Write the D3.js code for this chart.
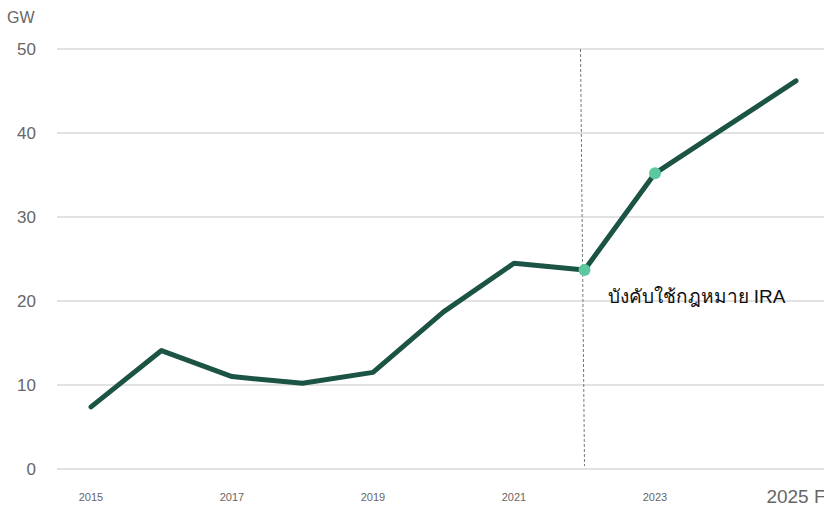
<!DOCTYPE html>
<html>
<head>
<meta charset="utf-8">
<script src="https://cdn.jsdelivr.net/npm/d3@7"></script>
<style>
  body { margin: 0; background: #fff; }
  svg { font-family: "Liberation Sans", Arial, sans-serif; }
</style>
</head>
<body>
<div id="chart"></div>
<script>
// data
const years = [2015, 2016, 2017, 2018, 2019, 2020, 2021, 2022, 2023, 2024, 2025];
const capacity = [7.4, 14.1, 11.0, 10.2, 11.5, 18.7, 24.5, 23.7, 35.2, 40.7, 46.2];
const highlightYears = [2022, 2023];
const yTicks = [0, 10, 20, 30, 40, 50];
const xTickLabels = ["2015", "2017", "2019", "2021", "2023", "2025 F"];
const xTickYears = [2015, 2017, 2019, 2021, 2023, 2025];
const markerYear = 2022;
const markerLabel = "บังคับใช้กฎหมาย IRA";

const width = 824, height = 506;

const x = d3.scaleLinear().domain([2015, 2025]).range([91, 796]);
const y = d3.scaleLinear().domain([0, 50]).range([469, 49]);

const svg = d3.select("#chart").append("svg")
  .attr("width", width)
  .attr("height", height);

// gridlines
svg.append("g")
  .selectAll("line")
  .data(yTicks)
  .enter().append("line")
  .attr("x1", 57)
  .attr("x2", width)
  .attr("y1", d => y(d))
  .attr("y2", d => y(d))
  .attr("stroke", "#d9d9d9")
  .attr("stroke-width", 1.5);

// y labels
svg.append("g")
  .selectAll("text")
  .data(yTicks)
  .enter().append("text")
  .attr("x", 36)
  .attr("y", d => y(d) + 6)
  .attr("text-anchor", "end")
  .attr("fill", "#666")
  .style("font-size", "17px")
  .text(d => d);

svg.append("text")
  .attr("x", 7)
  .attr("y", 23)
  .attr("fill", "#666")
  .style("font-size", "16px")
  .text("GW");

// x labels
svg.append("g")
  .selectAll("text")
  .data(xTickYears)
  .enter().append("text")
  .attr("x", d => x(d))
  .attr("y", d => d === 2025 ? 503 : 501)
  .attr("text-anchor", "middle")
  .attr("fill", "#666")
  .style("font-size", d => d === 2025 ? "19px" : "11px")
  .text((d, i) => xTickLabels[i]);

// marker line (dashed)
svg.append("line")
  .attr("x1", x(markerYear) - 4)
  .attr("x2", x(markerYear))
  .attr("y1", y(50))
  .attr("y2", y(0) - 3)
  .attr("stroke", "#777")
  .attr("stroke-width", 1)
  .attr("stroke-dasharray", "3,2");

// line
const data = years.map((yr, i) => ({ year: yr, value: capacity[i] }));
svg.append("path")
  .datum(data)
  .attr("fill", "none")
  .attr("stroke", "#1b5445")
  .attr("stroke-width", 5)
  .attr("stroke-linecap", "round")
  .attr("stroke-linejoin", "round")
  .attr("d", d3.line().x(d => x(d.year)).y(d => y(d.value)));

svg.selectAll(".dot")
  .data(data.filter(d => highlightYears.includes(d.year)))
  .enter().append("circle")
  .attr("cx", d => x(d.year))
  .attr("cy", d => y(d.value))
  .attr("r", 6)
  .attr("fill", "#5cc8a0");

// annotation
svg.append("text")
  .attr("x", x(markerYear) + 23)
  .attr("y", 303)
  .attr("fill", "#111")
  .style("font-size", "19px")
  .text(markerLabel);
</script>
</body>
</html>
